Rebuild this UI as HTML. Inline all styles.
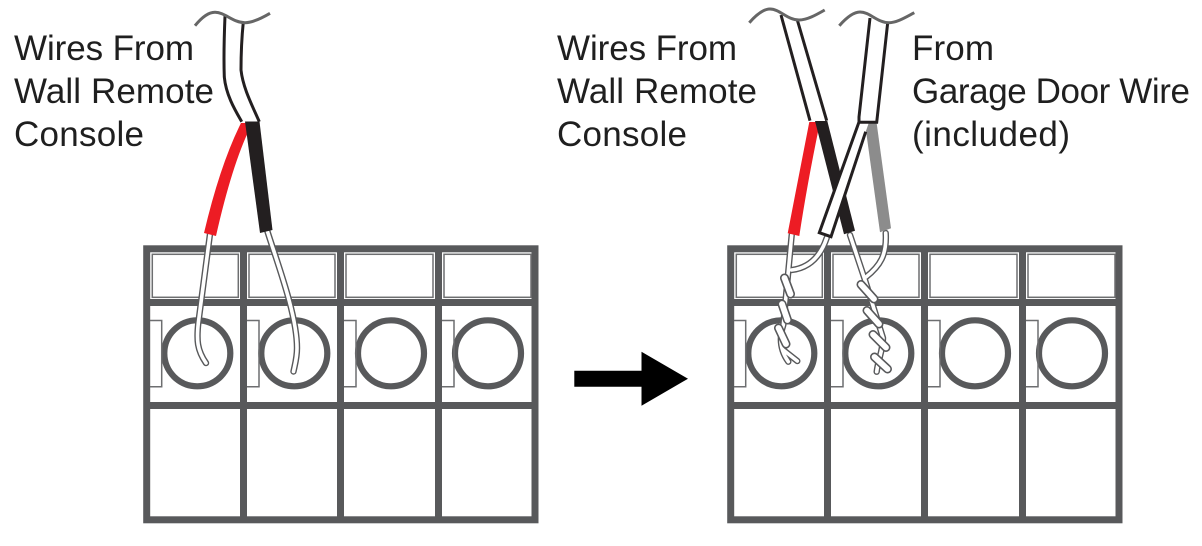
<!DOCTYPE html>
<html><head><meta charset="utf-8"><style>
html,body{margin:0;padding:0;background:#fff;width:1202px;height:546px;overflow:hidden}
svg{display:block}
text{font-family:"Liberation Sans",sans-serif;font-size:35px;fill:#1f1f1f}
</style></head><body>
<svg width="1202" height="546" viewBox="0 0 1202 546" xmlns="http://www.w3.org/2000/svg">
<defs>
<g id="block">
  <g fill="none" stroke="#58595b">
    <rect x="146.7" y="248.8" width="388.3" height="271" stroke-width="7"/>
    <path d="M243.5 249V520M340.5 249V520M438.5 249V520M147 302.5H535M147 405.5H535" stroke-width="7"/>
    <g stroke-width="6.2">
      <circle cx="197.3" cy="353.3" r="33"/><circle cx="294.3" cy="353.3" r="33"/>
      <circle cx="391" cy="353.3" r="33"/><circle cx="488" cy="353.3" r="33"/>
    </g>
    <g stroke="#6d6e70" stroke-width="1.5">
      <rect x="152.3" y="254.3" width="86" height="43"/>
      <rect x="249" y="254.3" width="86" height="43"/>
      <rect x="346" y="254.3" width="87" height="43"/>
      <rect x="444" y="254.3" width="87" height="43"/>
      <path d="M150 320.5H161.7V386.7H150M247 320.5H259V386.7H247M344 320.5H356V386.7H344M442 320.5H454V386.7H442"/>
    </g>
  </g>
</g>
</defs>

<use href="#block"/>
<use href="#block" x="584"/>

<!-- arrow -->
<path d="M574.3 370.7H641.5V351.7L688 378.7 641.5 405.7V386.7H574.3Z" fill="#000"/>

<!-- labels -->
<text x="14" y="60" textLength="180">Wires From</text>
<text x="14" y="103" textLength="200">Wall Remote</text>
<text x="14" y="146" textLength="130">Console</text>
<text x="557" y="60" textLength="180">Wires From</text>
<text x="557" y="103" textLength="200">Wall Remote</text>
<text x="557" y="146" textLength="130">Console</text>
<text x="912" y="60" textLength="82">From</text>
<text x="912" y="103" textLength="278">Garage Door Wire</text>
<text x="912" y="146" textLength="158">(included)</text>

<!-- LEFT thin wires -->
<g fill="none" stroke-linecap="round">
  <g stroke="#58595b" stroke-width="6.4">
    <path d="M210 234 198.3 323C196.5 340 197 350 206 363"/>
    <path d="M267.3 231C278 265 297 315 297 348 297 358 295 364 293.5 371.5"/>
  </g>
  <g stroke="#fff" stroke-width="3.6">
    <path d="M210 234 198.3 323C196.5 340 197 350 206 363"/>
    <path d="M267.3 231C278 265 297 315 297 348 297 358 295 364 293.5 371.5"/>
  </g>
</g>

<!-- LEFT cable -->
<path d="M225 16C224 40 223.7 60 224.3 77 226 95 235 110 241.7 121.7H259.3C252 105 243 88 241 70 241 50 242 35 243.3 22Z" fill="#fff" stroke="none"/>
<path d="M225 16C224 40 223.7 60 224.3 77 226 95 235 110 241.7 121.7M259.3 121.7C252 105 243 88 241 70 241 50 242 35 243.3 22" fill="none" stroke="#231f20" stroke-width="3"/>
<path d="M241 123H248L250 128Q232 165 216 236L204 233Q220 165 241 123Z" fill="#ed1c24"/>
<path d="M245 121.5H259.5L272.5 230 260 233Z" fill="#231f20"/>
<path d="M195 25.7C203 16 209 12.3 215 12.3 225 12.3 233 22.7 245 22.7 253 22.7 262 18 270 13.3" fill="none" stroke="#666" stroke-width="3"/>

<!-- RIGHT thin wires (back layer) -->
<g fill="none" stroke-linecap="round" stroke-linejoin="round">
  <g stroke="#58595b" stroke-width="6.4">
    <path d="M791.7 235 783.3 325C779 338 780 350 788.3 361.7"/>
    <path d="M826.7 238C820 258 808 268 791.7 270"/>
    <path d="M850 235 865 280 883 338C883 350 878 360 876.7 371.7"/>
    <path d="M885.7 233C887 255 880 266 866 277"/>
    <path d="M783.3 350 797.3 361"/>
  </g>
  <g stroke="#fff" stroke-width="3.6">
    <path d="M791.7 235 783.3 325C779 338 780 350 788.3 361.7"/>
    <path d="M826.7 238C820 258 808 268 791.7 270"/>
    <path d="M850 235 865 280 883 338C883 350 878 360 876.7 371.7"/>
    <path d="M885.7 233C887 255 880 266 866 277"/>
    <path d="M783.3 350 797.3 361"/>
  </g>
  <!-- twists -->
  <g stroke="#58595b" stroke-width="9">
    <path d="M784.5 278 790.5 294M782 304 787.5 320M778.5 328 786 344M861 284.5 874 299M867 310.5 879 324M873 334.5 886 347.5M874.5 357 887.5 369"/>
  </g>
  <g stroke="#fff" stroke-width="5.8">
    <path d="M784.5 278 790.5 294M782 304 787.5 320M778.5 328 786 344M861 284.5 874 299M867 310.5 879 324M873 334.5 886 347.5M874.5 357 887.5 369"/>
  </g>
</g>

<!-- RIGHT cable 1 -->
<path d="M781 15 810 120.7H826.7L797.3 20Z" fill="#fff"/>
<path d="M781 15 810 120.7M797.3 20 826.7 120.7" fill="none" stroke="#231f20" stroke-width="3"/>
<path d="M809.3 122H816L819 127Q807 185 799.3 236L787.7 233.3Q797 185 809.3 122Z" fill="#ed1c24"/>
<path d="M815 121H827.3L855 230.7 844 234.3Z" fill="#231f20"/>

<!-- RIGHT gray -->
<path d="M865 123.5H876.7L891 228.3 880 232.3Z" fill="#8c8c8c"/>

<!-- RIGHT cable 2 -->
<path d="M870 18 859 117V122.5L819.3 232.7 831 236.7 865.7 131.7 869 122.3H876.7L887.7 22.7Z" fill="#fff"/>
<path d="M870 18 859 117V122L819.3 232.7 831 236.7 865.7 131.7M859 122.3H876.7L887.7 22.7" fill="none" stroke="#231f20" stroke-width="3" stroke-linejoin="miter"/>

<!-- squiggles -->
<path d="M749.3 22.7C757 14 764 9 770 9 780 9 787 20 799 20 807 20 816 15 824.7 10" fill="none" stroke="#666" stroke-width="3"/>
<path d="M839.3 25.7C847 17 854 12 860 12 870 12 877 22.7 889 22.7 897 22.7 906 17 914.3 12.7" fill="none" stroke="#666" stroke-width="3"/>
</svg>
</body></html>
